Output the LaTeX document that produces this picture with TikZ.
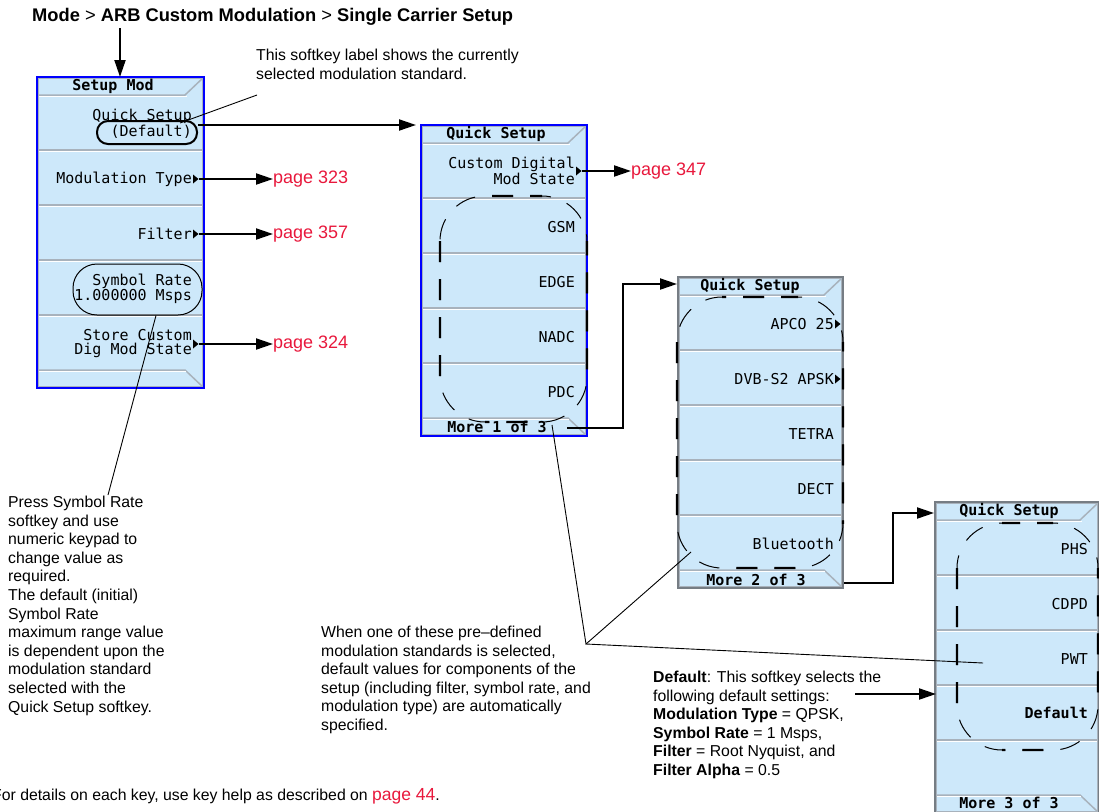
\documentclass[tikz,border=0pt]{standalone}
\usepackage{fontspec}
\setmainfont{Liberation Sans}
\newfontfamily\keyfont{DejaVu Sans Mono}
\usetikzlibrary{arrows.meta}
\definecolor{keyfill}{RGB}{205,232,250}
\definecolor{keyline}{RGB}{168,178,188}
\definecolor{menublue}{RGB}{0,0,255}
\definecolor{pagered}{RGB}{232,24,60}
\tikzset{
  arr/.style={line width=2pt,-{Triangle[length=17pt,width=11pt]}},
  callout/.style={line width=0.9pt},
  body/.style={font=\fontsize{15.8}{18.6}\selectfont,inner sep=0pt,anchor=base west},
  pageref/.style={font=\fontsize{18}{20}\selectfont,text=pagered,inner sep=0pt,anchor=west},
  keylabel/.style={font=\keyfont\fontsize{15}{14}\selectfont,inner sep=0pt,anchor=east,align=right},
  keytitle/.style={font=\keyfont\bfseries\fontsize{15}{14}\selectfont,inner sep=0pt},
  dashthin/.style={line width=1pt,dash pattern=on 21pt off 17pt,rounded corners=45pt},
  dashthick/.style={line width=2.4pt,dash pattern=on 21pt off 17pt,rounded corners=45pt},
  blueframe/.style={draw=menublue,line width=2.5pt},
  grayframe/.style={draw=keyline!70!black,line width=1.3pt},
}
\newcommand\softmenu[4]{%
\begin{scope}[shift={(#1,#2)}]
  \fill[keyfill] (0,0) rectangle (#3,311);
  \foreach \k in {1,...,4}{%
    \draw[keyline,line width=1.5pt] (0,{18+55*\k}) -- (#3,{18+55*\k});
    \draw[white,line width=1pt] (0,{19.6+55*\k}) -- (#3,{19.6+55*\k});}
  \draw[keyline,line width=1.5pt] (0,18) -- ({#3-19},18) -- (#3,0);
  \draw[white,line width=1pt] (0,19.6) -- ({#3-17},19.6);
  \draw[keyline,line width=1.5pt] (0,293) -- ({#3-19},293) -- (#3,311);
  \draw[white,line width=1pt] (0,294.6) -- ({#3-18},294.6);
  \draw[keyline,line width=1pt] (1.2,1.2) rectangle ({#3-1.2},309.8);
  \draw[#4] (0,0) rectangle (#3,311);
\end{scope}}
\newcommand\dashgroup[4]{%
  \draw[dashthin] (#1,#2) rectangle (#3,#4);
  \begin{scope}
    \clip ({#1+45},{#2-6}) rectangle ({#3-45},{#4+6});
    \draw[dashthick] (#1,#2) rectangle (#3,#4);
  \end{scope}
  \begin{scope}
    \clip ({#1-6},{#2+45}) rectangle ({#3+6},{#4-45});
    \draw[dashthick] (#1,#2) rectangle (#3,#4);
  \end{scope}}
\newcommand\subarrow[1]{\fill ([xshift=1pt]#1) ++(0,-4.5) -- ++(5.5,4.5) -- ++(-5.5,4.5) -- cycle;}
\begin{document}
\begin{tikzpicture}[x=1pt,y=-1pt]
\useasboundingbox (0,0) rectangle (1099,811);

% menus
\softmenu{37}{77}{167}{blueframe}
\softmenu{421}{125}{166}{blueframe}
\softmenu{678}{277}{165}{grayframe}
\softmenu{935}{502}{164}{grayframe}

% menu 1 labels
\node[keytitle] (t1) at (113,86) {Setup Mod};
\node[keylabel] (mq) at (192,124) {Quick Setup\\(Default)};
\node[keylabel] (mmod) at (192,179) {Modulation Type};
\node[keylabel] (mfil) at (192,234) {Filter};
\node[keylabel] (msr) at (192,289) {Symbol Rate\\1.000000 Msps};
\node[keylabel] (mstore) at (192,344) {Store Custom\\Dig Mod State};
\subarrow{mmod.east}
\subarrow{mfil.east}
\subarrow{mstore.east}
\node[draw,line width=2pt,rounded corners=11pt,minimum width=100pt,minimum height=23pt,inner sep=0pt] (defbox) at (147,132.5) {};
\node[draw,line width=1pt,rounded corners=24pt,minimum width=129pt,minimum height=51pt,inner sep=0pt] (srbox) at (137.5,289.5) {};

% menu 2 labels
\node[keytitle] (t2) at (496,134) {Quick Setup};
\node[keylabel] (qcust) at (575,171) {Custom Digital\\Mod State};
\node[keylabel] (qgsm) at (575,227) {GSM};
\node[keylabel] (qedge) at (575,282) {EDGE};
\node[keylabel] (qnadc) at (575,337) {NADC};
\node[keylabel] (qpdc) at (575,392) {PDC};
\node[keytitle] (b2) at (497,427) {More 1 of 3};
\subarrow{qcust.east}

% menu 3 labels
\node[keytitle] (t3) at (750,286) {Quick Setup};
\node[keylabel] (qapco) at (834,324) {APCO 25};
\node[keylabel] (qdvb) at (834,379) {DVB-S2 APSK};
\node[keylabel] (qtetra) at (834,434) {TETRA};
\node[keylabel] (qdect) at (834,489) {DECT};
\node[keylabel] (qbt) at (834,544) {Bluetooth};
\node[keytitle] (b3) at (756,580) {More 2 of 3};
\subarrow{qapco.east}
\subarrow{qdvb.east}

% menu 4 labels
\node[keytitle] (t4) at (1009,511) {Quick Setup};
\node[keylabel] (qphs) at (1088,549) {PHS};
\node[keylabel] (qcdpd) at (1088,604) {CDPD};
\node[keylabel] (qpwt) at (1088,659) {PWT};
\node[keylabel,font=\keyfont\bfseries\fontsize{15}{14}\selectfont] (qdef) at (1088,713) {Default};
\node[keytitle] (b4) at (1009,803) {More 3 of 3};

% dashed groups
\dashgroup{440}{196}{587}{422}
\dashgroup{677}{297}{843}{568}
\dashgroup{957}{523}{1098}{750}

% texts
\node[body,font=\fontsize{18.3}{20}\selectfont] (title) at (32,21.5) {\textbf{Mode} > \textbf{ARB Custom Modulation} > \textbf{Single Carrier Setup}};
\node[body] (calltext) at (256,60.5) {\parbox[t]{320pt}{\raggedright This softkey label shows the currently\\selected modulation standard.}};
\node[pageref] (p323) at (273,179) {page 323};
\node[pageref] (p357) at (273,234) {page 357};
\node[pageref] (p324) at (273,344) {page 324};
\node[pageref] (p347) at (631,171) {page 347};
\node[body] (press) at (8,507.5) {\parbox[t]{250pt}{\raggedright Press Symbol Rate\\softkey and use\\numeric keypad to\\change value as\\required.\\The default (initial)\\Symbol Rate\\maximum range value\\is dependent upon the\\modulation standard\\selected with the\\Quick Setup softkey.}};
\node[body] (predef) at (321,637.5) {\parbox[t]{320pt}{\raggedright When one of these pre–defined\\modulation standards is selected,\\default values for components of the\\setup (including filter, symbol rate, and\\modulation type) are automatically\\specified.}};
\node[body] (deftext) at (653,682.5) {\parbox[t]{260pt}{\raggedright \textbf{Default}: This softkey selects the\\following default settings:\\\textbf{Modulation Type} = QPSK,\\\textbf{Symbol Rate} = 1 Msps,\\\textbf{Filter} = Root Nyquist, and\\\textbf{Filter Alpha} = 0.5}};
\node[body] (footer) at (-8,800.5) {For details on each key, use key help as described on {\color{pagered}\fontsize{17.5}{20}\selectfont page 44}.};

% connector coordinates
\coordinate (topsrc) at (120,28);
\coordinate (m1top) at (120,77);
\coordinate (calltip) at (257,95);
\coordinate (calldef) at (180,123);
\coordinate (m2in) at (416,125);
\coordinate (m1out) at (567,428);
\coordinate (m3in) at (677,284);
\coordinate (m2out) at (844,583);
\coordinate (m4in) at (934,513);
\coordinate (defsrc) at (855,694);
\coordinate (m4def) at (936,694);
\coordinate (srtxt) at (108,495);
\coordinate (pdtop) at (552,425);
\coordinate (junc) at (586,644);
\coordinate (pdbt) at (691,552);
\coordinate (pdpwt) at (983,663);

% connectors
\draw[arr] (topsrc) -- (m1top);
\draw[callout] (calltip) -- (calldef);
\draw[arr] ([yshift=7.5pt]defbox.east) -- (m2in);
\draw[arr] ([xshift=6.5pt]mmod.east) -- (p323.west);
\draw[arr] ([xshift=6.5pt]mfil.east) -- (p357.west);
\draw[arr] ([xshift=6.5pt]mstore.east) -- (p324.west);
\draw[arr] ([xshift=6.5pt]qcust.east) -- (p347.west);
\draw[arr] (m1out) -- ++(56,0) |- (m3in);
\draw[arr] (m2out) -- ++(49,0) |- (m4in);
\draw[arr] (defsrc) -- (m4def);
\draw[callout] ([xshift=18.5pt]srbox.south) -- (srtxt);
\draw[callout] (pdtop) -- (junc) -- (pdbt);
\draw[callout] (junc) -- (pdpwt);
\end{tikzpicture}
\end{document}
